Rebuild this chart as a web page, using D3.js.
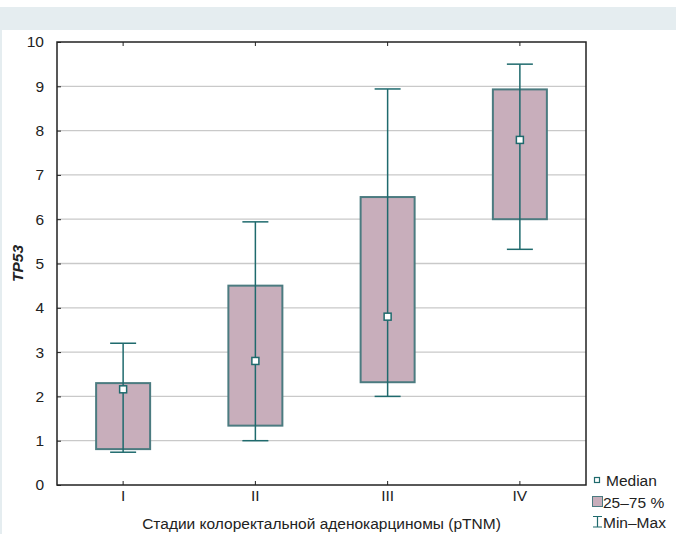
<!DOCTYPE html>
<html>
<head>
<meta charset="utf-8">
<script src="https://cdn.jsdelivr.net/npm/d3@7"></script>
<style>
  body { margin: 0; background: #fff; }
  svg { display: block; font-family: "Liberation Sans", Arial, sans-serif; }
</style>
</head>
<body>
<script>
// стадии и значения TP53
var stages = ["I", "II", "III", "IV"];
var minVals = [0.74, 1.0, 2.0, 5.32];
var q1Vals = [0.81, 1.34, 2.32, 6.0];
var medianVals = [2.16, 2.8, 3.8, 7.79];
var q3Vals = [2.3, 4.5, 6.5, 8.93];
var maxVals = [3.2, 5.94, 8.94, 9.5];
var yTicks = [0, 1, 2, 3, 4, 5, 6, 7, 8, 9, 10];
var legendLabels = ["Median", "25\u201375 %", "Min\u2013Max"];

var W = 676, H = 534;
var margin = { top: 42, right: 90, bottom: 49, left: 57 },
    width = W - margin.left - margin.right,
    height = H - margin.top - margin.bottom;

var fs = 15.5;
var boxFill = "#c8aebb", boxStroke = "#4b7b80", whisk = "#1f6a6d";

var svg = d3.select("body").append("svg")
    .attr("width", W)
    .attr("height", H);

// фон: полоса сверху и линия слева
svg.append("rect").attr("x", 0).attr("y", 7).attr("width", W).attr("height", 23).attr("fill", "#e5edf0");
svg.append("rect").attr("x", 0).attr("y", 30).attr("width", 2).attr("height", H - 30).attr("fill", "#e5edf0");

var g = svg.append("g")
    .attr("transform", "translate(" + margin.left + "," + margin.top + ")");

var x = d3.scaleBand().domain(stages).range([0, width]).padding(0);
var y = d3.scaleLinear().domain([0, 10]).range([height, 0]);

// сетка
g.selectAll(".grid")
    .data(yTicks.filter(function(d) { return d > 0 && d < 10; }))
    .enter().append("line")
    .attr("x1", 0).attr("x2", width)
    .attr("y1", function(d) { return y(d); })
    .attr("y2", function(d) { return y(d); })
    .attr("stroke", "#c9c9c9")
    .attr("stroke-width", 1.3);

var data = stages.map(function(s, i) {
    return { stage: s, min: minVals[i], q1: q1Vals[i], med: medianVals[i], q3: q3Vals[i], max: maxVals[i] };
});

var boxW = 54, capW = 26;
var boxes = g.selectAll(".box").data(data).enter().append("g")
    .attr("transform", function(d) { return "translate(" + (x(d.stage) + x.bandwidth() / 2) + ",0)"; });

boxes.append("rect")
    .attr("x", -boxW / 2)
    .attr("width", boxW)
    .attr("y", function(d) { return y(d.q3); })
    .attr("height", function(d) { return y(d.q1) - y(d.q3); })
    .attr("fill", boxFill)
    .attr("stroke", boxStroke)
    .attr("stroke-width", 2);

boxes.append("line")
    .attr("x1", 0).attr("x2", 0)
    .attr("y1", function(d) { return y(d.min); })
    .attr("y2", function(d) { return y(d.max); })
    .attr("stroke", whisk).attr("stroke-width", 1.5);

boxes.append("line")
    .attr("x1", -capW / 2).attr("x2", capW / 2)
    .attr("y1", function(d) { return y(d.max); })
    .attr("y2", function(d) { return y(d.max); })
    .attr("stroke", whisk).attr("stroke-width", 1.5);

boxes.append("line")
    .attr("x1", -capW / 2).attr("x2", capW / 2)
    .attr("y1", function(d) { return y(d.min); })
    .attr("y2", function(d) { return y(d.min); })
    .attr("stroke", whisk).attr("stroke-width", 1.5);

boxes.append("rect")
    .attr("x", -3.5).attr("width", 7)
    .attr("y", function(d) { return y(d.med) - 3.5; })
    .attr("height", 7)
    .attr("fill", "#fff")
    .attr("stroke", whisk).attr("stroke-width", 1.5);

// рамка
g.append("rect")
    .attr("width", width).attr("height", height)
    .attr("fill", "none").attr("stroke", "#222").attr("stroke-width", 1.5);

// оси
var yAxis = g.append("g")
    .call(d3.axisLeft(y).tickValues(yTicks).tickSize(-4).tickPadding(13).tickFormat(d3.format("d")));
yAxis.select(".domain").remove();
yAxis.selectAll("line").attr("stroke", "#222");
yAxis.selectAll("text").attr("font-size", fs).attr("fill", "#222")
    .attr("font-family", "Liberation Sans, Arial, sans-serif");

var xAxis = g.append("g")
    .attr("transform", "translate(0," + height + ")")
    .call(d3.axisBottom(x).tickSize(-4).tickPadding(5));
xAxis.select(".domain").remove();
xAxis.selectAll("line").attr("stroke", "#222");
xAxis.selectAll("text").attr("font-size", fs).attr("fill", "#222")
    .attr("font-family", "Liberation Sans, Arial, sans-serif");

var xTop = g.append("g")
    .call(d3.axisTop(x).tickSize(-4).tickFormat(""));
xTop.select(".domain").remove();
xTop.selectAll("line").attr("stroke", "#222");

// подписи осей
svg.append("text")
    .attr("transform", "translate(23," + (margin.top + height / 2) + ") rotate(-90)")
    .attr("text-anchor", "middle")
    .attr("font-size", fs)
    .attr("font-weight", "bold")
    .attr("font-style", "italic")
    .attr("fill", "#222")
    .text("TP53");

svg.append("text")
    .attr("x", margin.left + width / 2)
    .attr("y", 529)
    .attr("text-anchor", "middle")
    .attr("font-size", fs)
    .attr("fill", "#222")
    .text("Стадии колоректальной аденокарциномы (pTNM)");

// легенда
var lg = svg.append("g").attr("transform", "translate(592,0)");
lg.append("rect").attr("x", 2.5).attr("y", 477.5).attr("width", 5).attr("height", 5)
    .attr("fill", "#fff").attr("stroke", whisk).attr("stroke-width", 1.2);
lg.append("rect").attr("x", 0.5).attr("y", 496.5).attr("width", 10).attr("height", 10)
    .attr("fill", boxFill).attr("stroke", boxStroke).attr("stroke-width", 1);
lg.append("path").attr("d", "M1,516.5H10M5.5,516.5V527M1,527H10")
    .attr("fill", "none").attr("stroke", whisk).attr("stroke-width", 1.2);
lg.selectAll(".lt").data(legendLabels).enter().append("text")
    .attr("x", function(d, i) { return i === 0 ? 14 : 11; })
    .attr("y", function(d, i) { return [486, 507.5, 527.5][i]; })
    .attr("font-size", fs)
    .attr("fill", "#222")
    .text(function(d) { return d; });
</script>
</body>
</html>
